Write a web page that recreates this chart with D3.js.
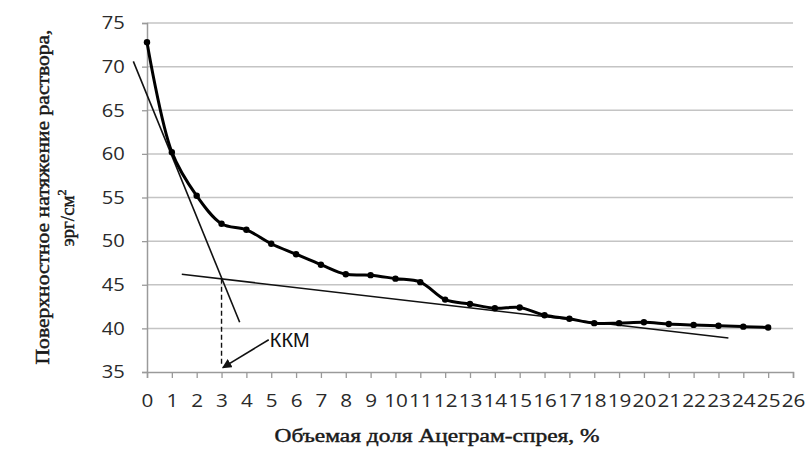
<!DOCTYPE html>
<html><head><meta charset="utf-8">
<script src="https://cdn.jsdelivr.net/npm/d3@7"></script>
<style>body{margin:0;background:#fff}svg{display:block}</style>
</head><body>
<svg id="c" width="808" height="451"></svg>
<script>
const concentration = [0,1,2,3,4,5,6,7,8,9,10,11,12,13,14,15,16,17,18,19,20,21,22,23,24,25];
const tension = [72.8,60.2,55.2,52.0,51.3,49.7,48.5,47.3,46.2,46.1,45.7,45.3,43.3,42.8,42.3,42.4,41.5,41.1,40.6,40.6,40.7,40.5,40.4,40.3,40.2,40.1];
const xTicks = d3.range(0,27);
const yTicks = [35,40,45,50,55,60,65,70,75];
const tangent1 = [[-0.55,70.6],[3.73,40.7]];
const tangent2 = [[1.4,46.2],[23.4,38.9]];
const cmcDrop = [[3,45.7],[3,35.6]];
const arrowLine = [[4.9,38.7],[3.05,35.5]];
const kkmLabel = "ККМ";
const xTitle = "Объемая доля Ацеграм-спрея, %";
const yTitle1 = "Поверхностное натяжение раствора,";
const yTitle2 = "эрг/см";

const svg = d3.select("#c");
const L=147,R=793,T=23,B=372;
const x = d3.scaleLinear().domain([0,26]).range([L,R]);
const y = d3.scaleLinear().domain([35,75]).range([B,T]);

// gridlines
svg.append("g").selectAll("line").data(yTicks.filter(v=>v>35)).join("line")
  .attr("x1",L).attr("x2",R).attr("y1",d=>y(d)).attr("y2",d=>y(d))
  .attr("stroke","#c4c4c4").attr("stroke-width",1.5);

// axes
const ya = svg.append("g").attr("transform",`translate(${L},0)`)
  .call(d3.axisLeft(y).tickValues(yTicks).tickSize(5).tickPadding(6));
const xa = svg.append("g").attr("transform",`translate(0,${B})`)
  .call(d3.axisBottom(x).tickValues(xTicks).tickSize(6).tickPadding(16));
[ya,xa].forEach(g=>{
  g.select(".domain").attr("stroke","#9a9a9a").attr("stroke-width",1.5);
  g.selectAll(".tick line").attr("stroke","#9a9a9a").attr("stroke-width",1.3);
  g.selectAll(".tick text").attr("font-family","'Open Sans'").attr("font-size",18)
    .attr("fill","#2a2a2a");
});
xa.selectAll(".tick text").attr("transform","scale(1.15,1)");
ya.selectAll(".tick text").attr("transform","translate(-10,0) scale(1.12,1)");

const ln = d3.line().x(d=>x(d[0])).y(d=>y(d[1]));

// tangent lines
svg.append("path").attr("d",ln(tangent1)).attr("stroke","#111").attr("stroke-width",1.6).attr("fill","none");
svg.append("path").attr("d",ln(tangent2)).attr("stroke","#111").attr("stroke-width",1.6).attr("fill","none");
svg.append("path").attr("d",ln(cmcDrop)).attr("stroke","#111").attr("stroke-width",1.4)
  .attr("stroke-dasharray","5,3").attr("fill","none");

// data curve
const pts = concentration.map((c,i)=>[c,tension[i]]);
svg.append("path").attr("d",d3.line().x(d=>x(d[0])).y(d=>y(d[1])).curve(d3.curveCatmullRom.alpha(0.5))(pts))
  .attr("stroke","#000").attr("stroke-width",3).attr("fill","none");
svg.append("g").selectAll("circle").data(pts).join("circle")
  .attr("cx",d=>x(d[0])).attr("cy",d=>y(d[1])).attr("r",3.2).attr("fill","#000");

// arrow
svg.append("defs").append("marker").attr("id","ah").attr("viewBox","0 0 10 10")
  .attr("refX",9).attr("refY",5).attr("markerWidth",6).attr("markerHeight",6)
  .attr("orient","auto").append("path").attr("d","M0,0L10,5L0,10z").attr("fill","#111");
svg.append("path").attr("d",ln(arrowLine)).attr("stroke","#111").attr("stroke-width",1.6)
  .attr("fill","none").attr("marker-end","url(#ah)");
svg.append("text").attr("x",x(arrowLine[0][0])+1).attr("y",y(arrowLine[0][1])+7)
  .attr("font-family","'Liberation Sans',Arial").attr("font-size",20).attr("fill","#111").text(kkmLabel);

// titles
const serif = {"font-family":"'Liberation Serif'","fill":"#1a1a1a","stroke":"#1a1a1a","stroke-width":0.45};
function sty(sel){ for(const k in serif) sel.attr(k,serif[k]); return sel; }
sty(svg.append("text")).attr("x",437).attr("y",442).attr("text-anchor","middle")
  .attr("font-size",19).attr("textLength",325).attr("lengthAdjust","spacingAndGlyphs").text(xTitle);
sty(svg.append("text")).attr("transform","translate(49,197) rotate(-90)").attr("text-anchor","middle")
  .attr("font-size",18).attr("textLength",335).attr("lengthAdjust","spacingAndGlyphs").text(yTitle1);
const t2 = sty(svg.append("text")).attr("transform","translate(74,218) rotate(-90)").attr("text-anchor","middle")
  .attr("font-size",19);
t2.append("tspan").text(yTitle2);
t2.append("tspan").attr("dy",-8).attr("font-size",12).text("2");
</script>
</body></html>
